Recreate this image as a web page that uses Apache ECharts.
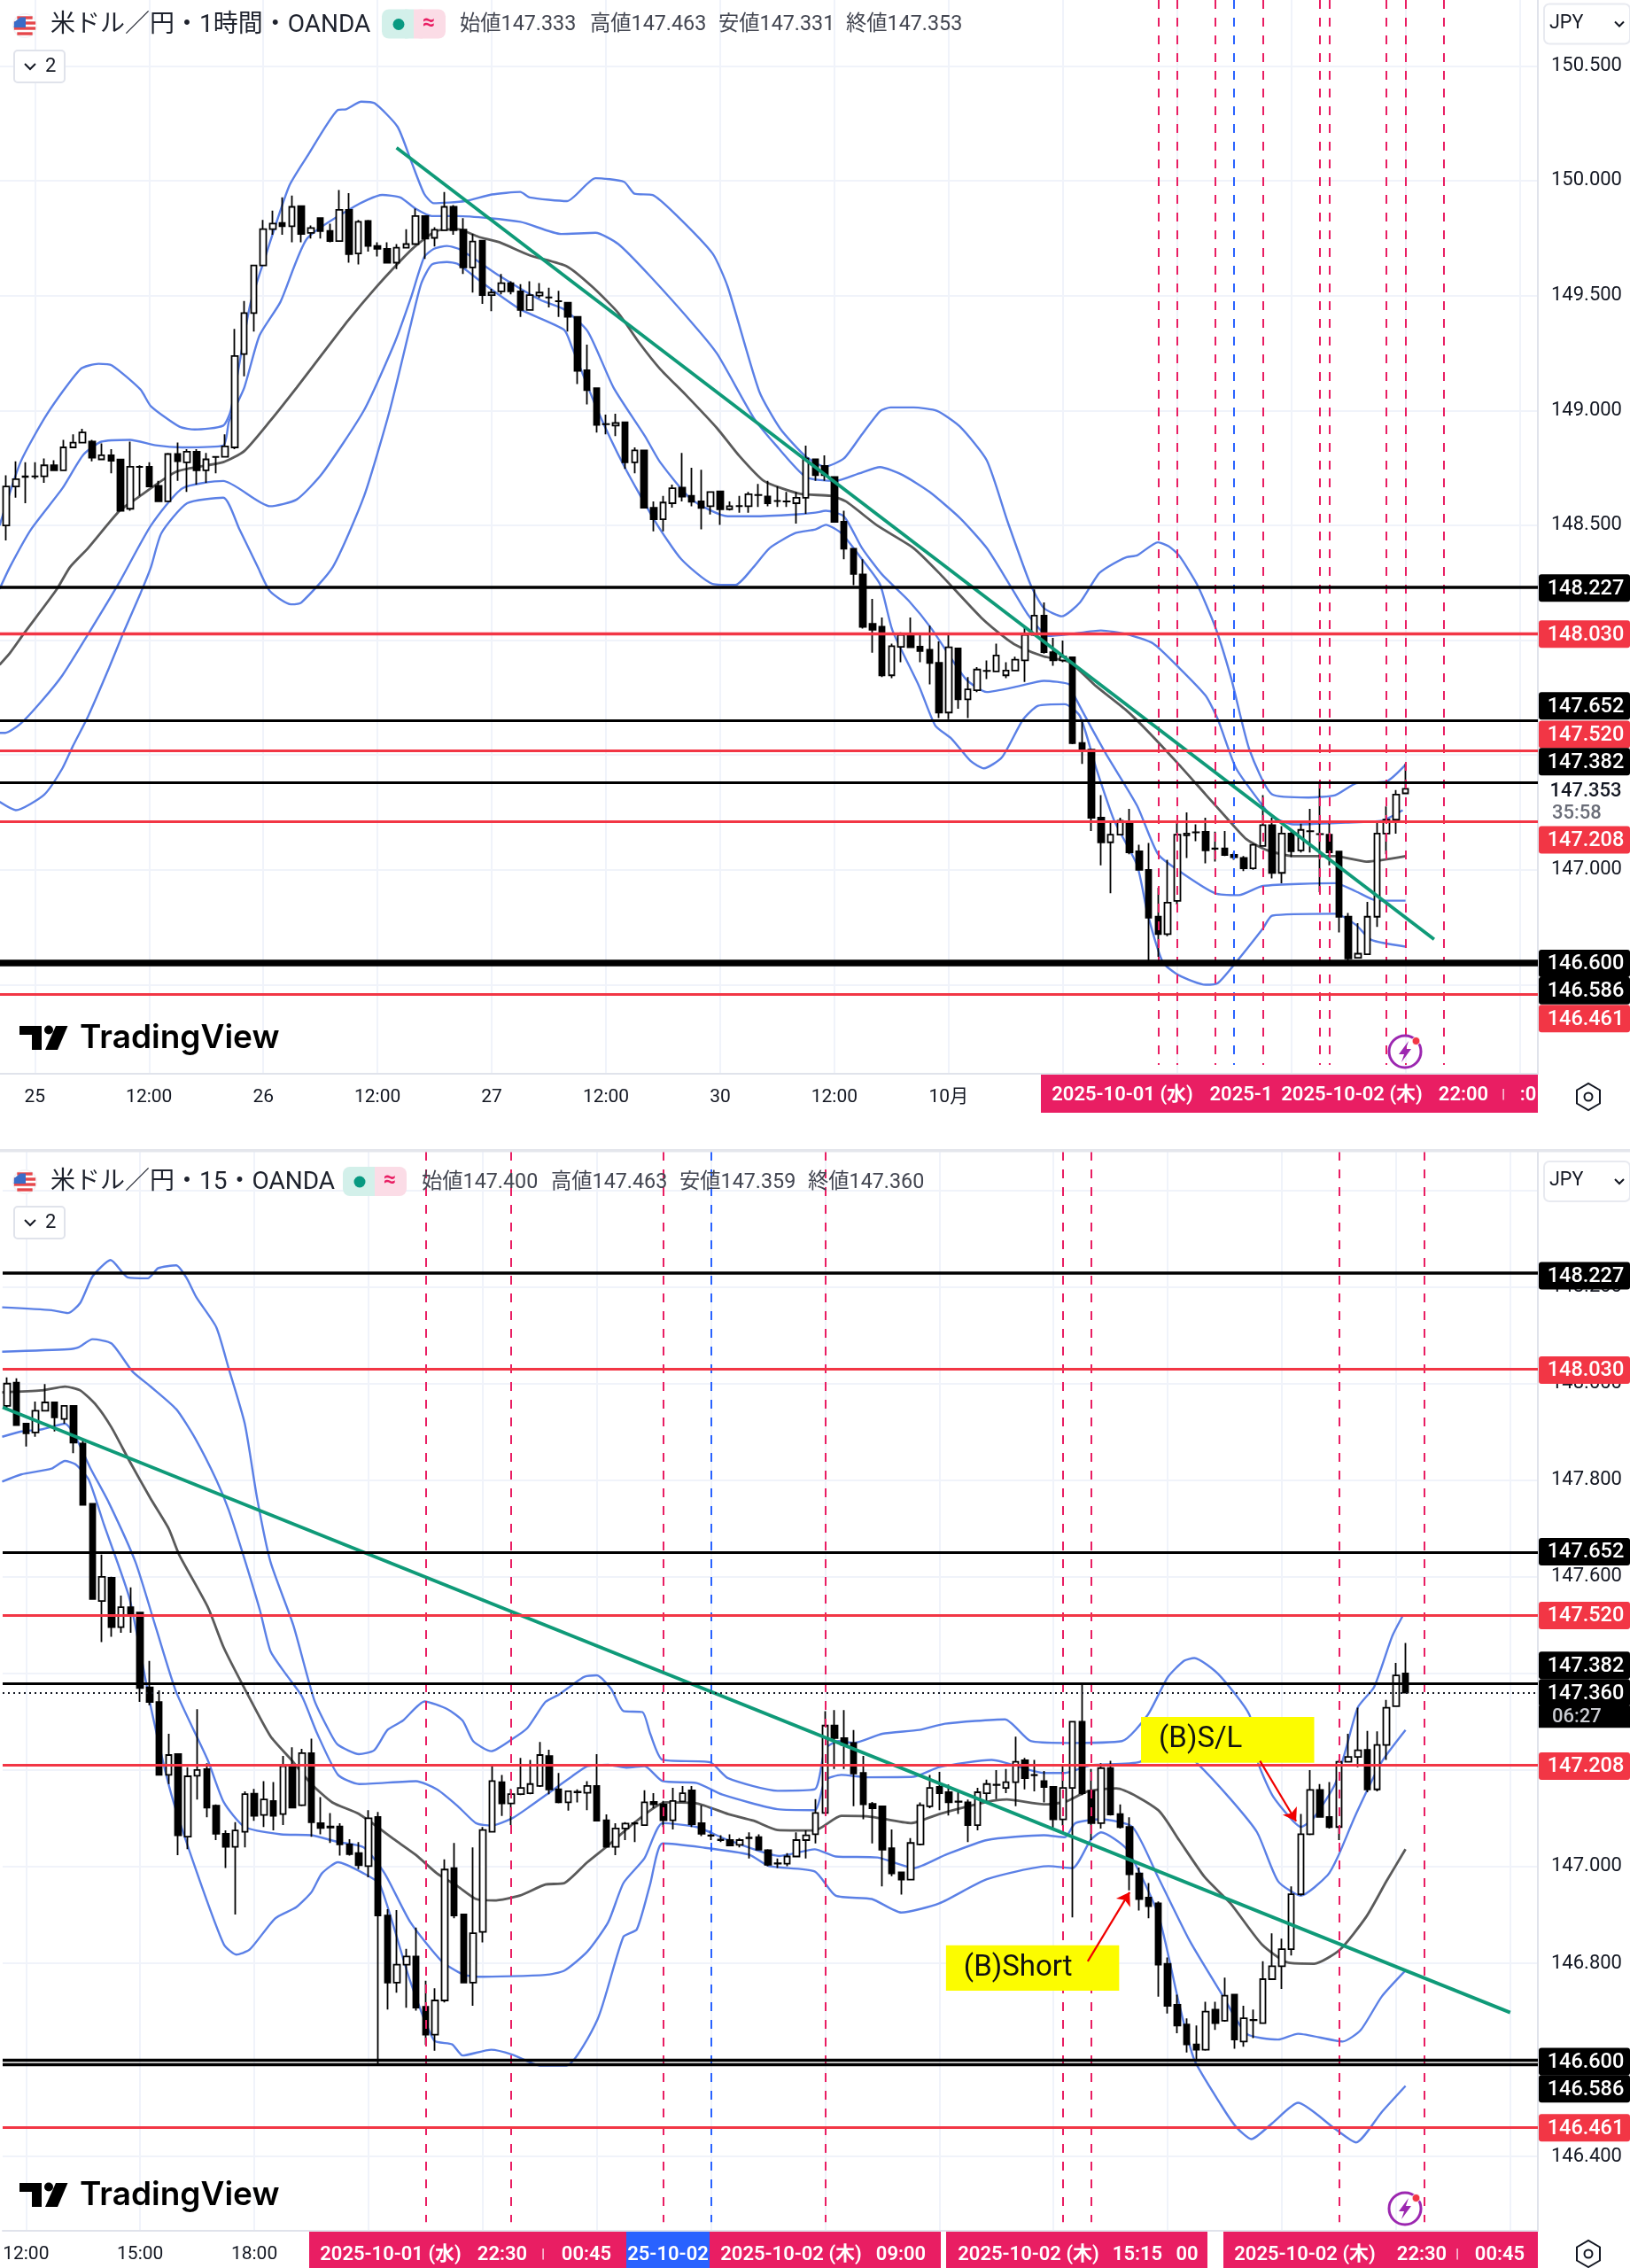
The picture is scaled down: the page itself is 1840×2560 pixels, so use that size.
<!DOCTYPE html>
<html><head><meta charset="utf-8">
<style>html,body{margin:0;padding:0;background:#fff}#c{width:1840px;height:2560px}</style>
<script src="https://cdn.jsdelivr.net/npm/echarts@6/dist/echarts.min.js"></script>
</head><body><div id="c"></div>
<script>
// ---------- 1 hour panel (bar 0 = 25th 00:00) ----------
const h1FirstBar = -3;
const h1Ohlc = [
[148.499,148.669,148.434,148.718],[148.669,148.701,148.620,148.778],[148.710,148.713,148.596,148.774],[148.712,148.713,148.701,148.774],
[148.713,148.761,148.685,148.791],[148.761,148.739,148.739,148.783],[148.739,148.839,148.739,148.872],[148.839,148.860,148.839,148.896],
[148.860,148.904,148.860,148.920],[148.864,148.794,148.778,148.872],[148.787,148.805,148.783,148.856],[148.805,148.781,148.726,148.831],
[148.786,148.563,148.560,148.786],[148.572,148.755,148.563,148.864],[148.754,148.755,148.628,148.761],[148.755,148.669,148.669,148.774],
[148.672,148.604,148.604,148.693],[148.604,148.810,148.604,148.815],[148.810,148.779,148.693,148.860],[148.774,148.820,148.645,148.831],
[148.820,148.739,148.677,148.831],[148.739,148.787,148.685,148.815],[148.797,148.798,148.726,148.799],[148.798,148.843,148.798,148.896],
[148.839,149.237,148.831,149.355],[149.245,149.424,149.148,149.476],[149.424,149.631,149.343,149.631],[149.631,149.789,149.631,149.829],
[149.789,149.813,149.765,149.870],[149.816,149.802,149.765,149.927],[149.802,149.886,149.732,149.935],[149.889,149.768,149.732,149.889],
[149.773,149.794,149.748,149.805],[149.837,149.781,149.748,149.837],[149.781,149.737,149.732,149.813],[149.737,149.873,149.735,149.959],
[149.873,149.680,149.643,149.946],[149.683,149.821,149.635,149.829],[149.825,149.716,149.691,149.829],[149.716,149.703,149.670,149.732],
[149.703,149.643,149.643,149.732],[149.643,149.708,149.615,149.724],[149.708,149.724,149.708,149.789],[149.724,149.846,149.724,149.878],
[149.846,149.748,149.659,149.846],[149.751,149.786,149.713,149.797],[149.784,149.886,149.784,149.951],[149.886,149.784,149.765,149.894],
[149.787,149.622,149.594,149.837],[149.622,149.735,149.513,149.768],[149.739,149.502,149.464,149.739],[149.502,149.513,149.432,149.529],
[149.518,149.554,149.505,149.594],[149.554,149.518,149.505,149.562],[149.518,149.437,149.407,149.550],[149.437,149.502,149.437,149.562],
[149.500,149.513,149.489,149.554],[149.492,149.491,149.448,149.534],[149.476,149.475,149.407,149.521],[149.469,149.407,149.343,149.472],
[149.407,149.172,149.115,149.407],[149.175,149.088,149.026,149.286],[149.097,148.937,148.904,149.099],[148.941,148.940,148.896,148.982],
[148.934,148.945,148.888,148.986],[148.948,148.774,148.745,148.948],[148.774,148.826,148.726,148.839],[148.826,148.576,148.576,148.826],
[148.576,148.526,148.474,148.604],[148.526,148.599,148.474,148.628],[148.596,148.661,148.577,148.677],[148.664,148.625,148.604,148.815],
[148.628,148.602,148.583,148.750],[148.604,148.575,148.482,148.742],[148.583,148.645,148.547,148.648],[148.648,148.570,148.502,148.648],
[148.570,148.583,148.564,148.604],[148.583,148.584,148.555,148.628],[148.583,148.635,148.555,148.645],[148.631,148.632,148.580,148.680],
[148.625,148.596,148.583,148.693],[148.606,148.605,148.580,148.669],[148.604,148.603,148.580,148.645],[148.596,148.620,148.507,148.645],
[148.620,148.791,148.550,148.847],[148.787,148.718,148.693,148.791],[148.758,148.718,148.693,148.804],[148.710,148.515,148.515,148.710],
[148.515,148.398,148.352,148.563],[148.398,148.288,148.239,148.398],[148.286,148.058,148.050,148.352],[148.071,148.045,147.945,148.180],
[148.058,147.847,147.839,148.099],[147.847,147.974,147.834,147.985],[147.971,148.023,147.904,148.034],[148.029,147.969,147.969,148.099],
[147.972,147.953,147.904,148.026],[147.958,147.901,147.807,148.063],[147.901,147.685,147.661,147.994],[147.685,147.969,147.656,148.023],
[147.964,147.742,147.701,147.964],[147.742,147.786,147.661,147.839],[147.782,147.872,147.774,147.883],[147.867,147.866,147.831,147.912],
[147.864,147.933,147.860,147.985],[147.847,147.868,147.834,147.904],[147.868,147.915,147.867,147.928],[147.912,148.023,147.818,148.058],
[148.023,148.107,148.018,148.221],[148.107,147.948,147.941,148.164],[147.948,147.912,147.888,148.010],[147.912,147.928,147.904,147.998],
[147.925,147.552,147.547,147.928],[147.552,147.520,147.461,147.645],[147.523,147.227,147.169,147.523],[147.227,147.120,147.020,147.325],
[147.120,147.153,146.898,147.211],[147.153,147.214,147.150,147.227],[147.211,147.076,147.068,147.266],[147.081,147.000,147.000,147.109],
[147.000,146.792,146.606,147.117],[146.796,146.720,146.622,146.922],[146.720,146.857,146.711,147.044],[146.865,147.153,146.849,147.214],
[147.150,147.158,147.052,147.250],[147.163,147.164,147.125,147.198],[147.166,147.085,147.028,147.227],[147.093,147.092,147.036,147.166],
[147.093,147.065,147.060,147.169],[147.065,147.055,147.044,147.076],[147.052,147.007,146.995,147.060],[147.007,147.109,147.000,147.114],
[147.104,147.195,147.101,147.325],[147.195,146.987,146.963,147.227],[146.987,147.158,146.942,147.190],[147.158,147.081,147.055,147.166],
[147.085,147.174,147.076,147.201],[147.169,147.168,147.076,147.266],[147.156,147.155,146.903,147.380],[147.153,147.076,147.020,147.214],
[147.080,146.796,146.728,147.080],[146.796,146.614,146.606,146.812],[146.617,146.635,146.614,146.768],[146.633,146.796,146.630,146.861],
[146.796,147.158,146.752,147.214],[147.158,147.219,147.068,147.276],[147.219,147.328,147.158,147.348],[147.333,147.353,147.331,147.463]];
const h1Upper2 = [[-3.7,148.499],[-1.5,148.775],[1.3,148.985],[4.8,149.180],[6.7,149.203],[8.1,149.196],[11.1,149.091],[12.2,149.018],[15.2,148.929],[16.8,148.917],[19.8,148.934],[20.6,149.002],[22.6,149.456],[24.2,149.667],[26.7,149.975],[28.6,150.105],[31.8,150.307],[32.7,150.311],[34.3,150.344],[35.7,150.337],[38.1,150.235],[39.5,150.089],[40.9,149.943],[41.9,149.902],[45.2,149.911],[48,149.940],[51,149.951],[52,149.927],[55.9,149.911],[58.9,150.011],[61.9,149.995],[63,149.943],[64.9,149.938],[67.3,149.854],[71.2,149.683],[72.8,149.537],[76.1,149.083],[78.3,148.921],[81,148.799],[83,148.755],[85,148.791],[86.9,148.896],[88.8,148.997],[89.9,149.013],[92.3,149.013],[94.8,148.998],[97.2,148.929],[100,148.783],[102.2,148.515],[104.6,148.242],[106,148.140],[107.9,148.104],[109.8,148.164],[111.7,148.286],[112.8,148.320],[114.7,148.361],[115.8,148.369],[118,148.426],[119.1,148.409],[120.2,148.369],[122.1,148.242],[124,148.058],[125.7,147.831],[127.6,147.523],[130,147.328],[133.8,147.315],[136.6,147.325],[138.8,147.377],[142,147.385],[144,147.458]];
const h1Upper1 = [[-3.7,148.223],[-2.6,148.320],[-0.4,148.482],[2.9,148.661],[5.1,148.807],[7,148.864],[10,148.872],[12.7,148.848],[15.5,148.839],[19.8,148.847],[20.4,148.953],[22,149.099],[23.6,149.326],[25.8,149.472],[28.6,149.748],[33.5,149.886],[36.5,149.938],[38.4,149.927],[40,149.878],[41.7,149.846],[44.4,149.846],[51,149.821],[55.3,149.768],[58.9,149.773],[61.3,149.724],[64.6,149.586],[69.5,149.359],[71.7,149.245],[75.5,148.969],[77.7,148.856],[81,148.710],[84.1,148.693],[86.6,148.726],[88.8,148.753],[91.2,148.718],[94,148.645],[97.2,148.531],[100,148.401],[102.4,148.242],[104.4,148.107],[106.5,148.018],[108.7,148.026],[112,148.042],[114.7,148.026],[117.5,147.985],[120.2,147.880],[123,147.758],[124.3,147.653],[126.2,147.442],[129,147.279],[130,147.231],[132.2,147.198],[137.7,147.206],[141.5,147.214],[143.7,147.260]];
const h1Mid = [[-3.7,147.893],[-2.6,147.945],[-1.2,148.026],[2.3,148.221],[3.7,148.318],[5.6,148.401],[8.9,148.563],[10.8,148.620],[14.9,148.734],[19.8,148.775],[22,148.823],[24.7,148.953],[27.5,149.099],[30.2,149.245],[32.9,149.391],[35.7,149.529],[38.4,149.651],[40,149.716],[42.2,149.781],[44.4,149.789],[46.6,149.756],[48.8,149.732],[52,149.675],[55.9,149.627],[58.6,149.537],[61.3,149.424],[63.5,149.294],[65.7,149.180],[68.4,149.067],[71.7,148.921],[73.9,148.807],[76.6,148.693],[80.4,148.637],[83.6,148.628],[85.2,148.604],[88.5,148.499],[92.3,148.401],[95.1,148.288],[99.4,148.099],[102.2,148.002],[103.5,147.969],[106,147.929],[108.7,147.904],[111.5,147.799],[114.7,147.693],[116.9,147.604],[120.2,147.458],[123,147.328],[125.1,147.231],[127.3,147.133],[129.5,147.085],[132.2,147.060],[136.6,147.060],[139.9,147.036],[144,147.060]];
const h1Lower1 = [[-3.7,147.596],[-3.1,147.596],[-1.5,147.636],[0.7,147.734],[2.9,147.847],[5.6,148.026],[8.9,148.253],[12.2,148.499],[15.5,148.661],[19.8,148.693],[24.7,148.583],[27.5,148.612],[30.2,148.726],[34.6,149.002],[37.8,149.294],[39.5,149.489],[40.9,149.667],[41.9,149.703],[43.3,149.716],[44.7,149.700],[48.8,149.586],[53.1,149.481],[55.6,149.440],[58.1,149.343],[60.8,149.099],[64.1,148.888],[65.7,148.774],[69,148.612],[72.8,148.539],[75.5,148.539],[79.9,148.547],[82,148.555],[83.1,148.563],[85,148.539],[86.9,148.401],[89,148.286],[91.8,148.172],[94.2,148.050],[97.8,147.831],[100,147.774],[103.3,147.799],[106,147.823],[108.7,147.807],[109.3,147.750],[112.5,147.507],[115.8,147.279],[118,147.068],[120.5,146.987],[124,146.898],[126.5,146.890],[129,146.930],[136.6,146.942],[138.8,146.906],[141,146.866],[144,146.866]];
const h1Lower2 = [[-3.7,147.296],[-2,147.260],[1,147.328],[2.9,147.442],[4,147.539],[5.6,147.669],[7.8,147.880],[9.4,148.042],[11.1,148.204],[12.2,148.318],[13.3,148.466],[16,148.596],[19.8,148.620],[21.5,148.482],[23.4,148.320],[24.7,148.213],[26.9,148.156],[28,148.164],[31.3,148.318],[34.6,148.628],[37.3,149.002],[39.5,149.375],[40.6,149.553],[41.7,149.635],[43.3,149.646],[44.4,149.638],[47.1,149.553],[51,149.440],[55.6,149.351],[56.4,149.278],[59.1,149.002],[61.9,148.758],[65.2,148.515],[67.9,148.353],[71.2,148.245],[73.6,148.240],[75.5,148.318],[77.2,148.401],[79.9,148.466],[82,148.482],[83.1,148.502],[84.7,148.466],[86.9,148.352],[88.8,148.242],[90.1,148.042],[92.9,147.799],[94.6,147.628],[96.3,147.571],[98.3,147.474],[99.7,147.442],[101.6,147.490],[103.8,147.653],[105.4,147.714],[108.2,147.721],[109.8,147.669],[111.5,147.442],[113.4,147.214],[115.8,147.020],[116.9,146.809],[118.5,146.598],[120.2,146.541],[123,146.500],[124.3,146.508],[126.2,146.598],[129,146.744],[130,146.801],[136.6,146.809],[138.8,146.760],[140.4,146.695],[144,146.666]];
const h1Trend = [[38,150.143],[147,146.698]];
const h1RedMarks = [118,120,124,129,135,136,142,144,148];
const h1BlueMarks = [126];
const h1XTicks = [0,12,24,36,48,60,72,84,96,108,120,132,144,156];
const h1XLabelBars = [0,12,24,36,48,60,72,84,96];
const h1XLabels = ['25','12:00','26','12:00','27','12:00','30','12:00','10月'];
const h1YGrid = [146.5,147,147.5,148,148.5,149,149.5,150,150.5];
const h1YLabels = [147,148.5,149,149.5,150,150.5];

// ---------- 15 minute panel (bar 0 = 12:00) ----------
const m15FirstBar = -2;
const m15Ohlc = [
[147.954,148.000,147.948,148.013],[148.002,147.914,147.913,148.011],[147.917,147.897,147.870,147.917],[147.899,147.944,147.890,147.963],
[147.944,147.961,147.944,147.999],[147.961,147.930,147.901,147.963],[147.927,147.954,147.917,147.955],[147.954,147.878,147.856,147.955],
[147.876,147.749,147.749,147.882],[147.751,147.554,147.554,147.753],[147.550,147.600,147.465,147.646],[147.598,147.496,147.476,147.600],
[147.496,147.537,147.484,147.561],[147.537,147.524,147.484,147.578],[147.526,147.370,147.341,147.526],[147.371,147.341,147.334,147.426],
[147.341,147.190,147.190,147.365],[147.190,147.231,147.171,147.275],[147.233,147.065,147.024,147.233],[147.062,147.187,147.036,147.206],
[147.188,147.200,147.139,147.326],[147.202,147.122,147.102,147.214],[147.126,147.068,147.055,147.129],[147.068,147.041,146.997,147.075],
[147.041,147.075,146.901,147.092],[147.072,147.150,147.040,147.156],[147.151,147.105,147.095,147.161],[147.107,147.139,147.082,147.177],
[147.136,147.105,147.075,147.175],[147.109,147.208,147.086,147.229],[147.208,147.122,147.122,147.247],[147.127,147.235,147.125,147.244],
[147.235,147.092,147.062,147.265],[147.090,147.080,147.067,147.144],[147.083,147.081,147.049,147.111],[147.083,147.046,147.023,147.090],
[147.046,147.026,147.023,147.057],[147.028,147.003,146.995,147.051],[147.001,147.100,146.978,147.117],[147.103,146.899,146.588,147.113],
[146.899,146.760,146.704,146.912],[146.760,146.797,146.739,146.910],[146.797,146.814,146.708,146.830],[146.814,146.708,146.702,146.874],
[146.710,146.652,146.631,146.764],[146.652,146.723,146.619,146.748],[146.723,146.994,146.719,147.015],[146.997,146.899,146.893,147.049],
[146.901,146.760,146.760,146.901],[146.760,146.862,146.712,147.040],[146.865,147.076,146.843,147.082],[147.072,147.177,147.071,147.211],
[147.175,147.131,147.105,147.190],[147.131,147.150,147.086,147.161],[147.150,147.163,147.148,147.225],[147.152,147.171,147.150,147.221],
[147.167,147.231,147.165,147.258],[147.229,147.160,147.150,147.242],[147.160,147.133,147.131,147.194],[147.133,147.156,147.116,147.157],
[147.155,147.154,147.133,147.160],[147.153,147.167,147.117,147.177],[147.167,147.095,147.095,147.233],[147.096,147.041,147.040,147.108],
[147.041,147.079,147.024,147.090],[147.079,147.089,147.055,147.092],[147.089,147.090,147.051,147.093],[147.086,147.133,147.085,147.158],
[147.134,147.129,147.121,147.152],[147.129,147.096,147.082,147.136],[147.096,147.136,147.077,147.163],[147.135,147.152,147.134,147.167],
[147.158,147.088,147.082,147.167],[147.090,147.068,147.063,147.127],[147.065,147.064,147.055,147.075],[147.056,147.055,147.051,147.065],
[147.055,147.044,147.042,147.067],[147.045,147.055,147.040,147.059],[147.060,147.059,147.017,147.071],[147.061,147.035,147.034,147.067],
[147.034,147.004,147.001,147.036],[147.007,147.006,146.997,147.017],[147.006,147.021,147.001,147.028],[147.021,147.055,147.019,147.071],
[147.055,147.065,147.017,147.075],[147.067,147.111,147.048,147.140],[147.111,147.292,147.110,147.322],[147.292,147.266,147.202,147.324],
[147.266,147.252,147.202,147.324],[147.256,147.193,147.125,147.283],[147.194,147.129,147.098,147.229],[147.130,147.121,147.048,147.134],
[147.125,147.035,146.959,147.125],[147.038,146.986,146.980,147.077],[146.988,146.973,146.942,146.990],[146.973,147.049,146.973,147.059],
[147.046,147.127,147.044,147.133],[147.125,147.163,147.121,147.190],[147.165,147.152,147.117,147.196],[147.154,147.133,147.106,147.170],
[147.135,147.134,147.109,147.156],[147.133,147.086,147.051,147.139],[147.086,147.154,147.075,147.163],[147.152,147.171,147.133,147.180],
[147.169,147.170,147.140,147.200],[147.163,147.175,147.152,147.202],[147.175,147.217,147.125,147.269],[147.220,147.183,147.160,147.225],
[147.190,147.189,147.156,147.221],[147.177,147.165,147.133,147.198],[147.165,147.098,147.075,147.165],[147.098,147.163,147.085,147.210],
[147.163,147.300,146.895,147.300],[147.300,147.152,147.148,147.380],[147.157,147.090,147.055,147.202],[147.090,147.204,147.079,147.214],
[147.204,147.108,147.106,147.219],[147.109,147.082,147.079,147.129],[147.082,146.984,146.951,147.102],[146.986,146.933,146.909,146.998],
[146.936,146.918,146.893,146.966],[146.924,146.797,146.731,146.928],[146.799,146.712,146.696,146.812],[146.714,146.671,146.655,146.735],
[146.673,146.632,146.615,146.686],[146.632,146.621,146.600,146.671],[146.621,146.700,146.619,146.720],[146.704,146.676,146.662,146.720],
[146.681,146.733,146.679,146.770],[146.735,146.642,146.623,146.735],[146.638,146.686,146.627,146.712],[146.683,146.682,146.645,146.704],
[146.676,146.767,146.675,146.804],[146.767,146.794,146.766,146.862],[146.794,146.829,146.747,146.851],[146.829,146.943,146.816,146.959],
[146.943,147.067,146.940,147.109],[147.067,147.159,147.065,147.200],[147.159,147.103,147.102,147.171],[147.103,147.082,147.079,147.175],
[147.082,147.217,147.055,147.221],[147.217,147.227,147.216,147.275],[147.227,147.241,147.206,147.329],[147.242,147.160,147.154,147.281],
[147.160,147.252,147.156,147.280],[147.252,147.329,147.221,147.345],[147.332,147.396,147.331,147.422],[147.400,147.360,147.359,147.463]];
const m15Upper2 = [[-2.5,148.158],[2.7,148.152],[4.4,148.146],[5.7,148.167],[7,148.222],[8.9,148.256],[10.7,148.220],[12.8,148.218],[13.9,148.239],[15.8,148.245],[16.9,148.218],[17.9,148.179],[20,148.117],[21.3,148.032],[23,147.917],[24.3,147.762],[25.7,147.631],[28.1,147.500],[30.3,147.345],[32,147.276],[32.8,147.252],[35,147.233],[36.6,147.241],[38,147.283],[39.6,147.302],[41.9,147.342],[44.3,147.326],[45.9,147.302],[47,147.260],[48.9,147.239],[51.1,147.264],[52.7,147.287],[54.6,147.341],[56,147.356],[57.4,147.376],[58.7,147.393],[60,147.396],[61.5,147.368],[62.8,147.322],[64.8,147.320],[65.6,147.276],[66.9,147.221],[71.9,147.216],[73.8,147.183],[79,147.157],[82.9,147.160],[84,147.244],[85.4,147.260],[87,147.256],[90,147.275],[93.9,147.283],[96.6,147.296],[102.9,147.305],[105.6,147.260],[109.2,147.256],[115.2,147.260],[117.9,147.314],[120,147.392],[121.7,147.426],[122.8,147.432],[125.3,147.399],[128.6,147.314],[129.4,147.221],[131,147.148],[133.2,147.094],[134,147.082],[135.4,147.102],[137.6,147.171],[138.7,147.241],[140,147.330],[141.7,147.372],[143.6,147.477],[144.7,147.519]];
const m15Upper1 = [[-2.5,148.066],[4.4,148.071],[5.5,148.075],[7,148.092],[9,148.083],[11.2,148.025],[13.1,147.994],[15.8,147.947],[17.8,147.886],[20,147.801],[21.3,147.739],[22.7,147.654],[24.6,147.530],[25.7,147.446],[27.3,147.399],[29,147.353],[30.6,147.276],[32.8,147.190],[35,147.171],[41,147.177],[43.2,147.160],[45.4,147.125],[47.3,147.090],[48.9,147.085],[51.1,147.100],[53,147.125],[55.2,147.156],[57.4,147.187],[59,147.208],[61.2,147.211],[63.1,147.205],[65,147.208],[66.9,147.177],[70.5,147.173],[73.2,147.149],[79,147.119],[82.9,147.117],[84,147.179],[85.7,147.190],[88.4,147.185],[93.3,147.186],[96,147.206],[101.5,147.221],[107,147.194],[109.2,147.194],[111.9,147.210],[117.1,147.217],[120,147.264],[123.1,147.214],[126.6,147.140],[129.4,147.071],[131.6,146.970],[134,146.940],[136.8,146.982],[137.9,147.021],[139.8,147.109],[142.5,147.217],[145,147.283]];
const m15Mid = [[-2.5,147.982],[1.6,147.986],[4.1,147.994],[5.7,147.986],[7.4,147.955],[9,147.909],[10.9,147.839],[13.1,147.762],[15,147.700],[16.1,147.646],[19.1,147.538],[20.8,147.453],[23,147.368],[25.7,147.270],[27.9,147.221],[30,147.171],[32.2,147.133],[35,147.109],[38.8,147.055],[41,147.024],[43.2,146.986],[45.4,146.959],[47.3,146.933],[49.2,146.930],[51.9,146.940],[54.6,146.963],[56.6,146.966],[59,147.009],[61.2,147.044],[63.9,147.090],[67.2,147.133],[70.5,147.131],[73.8,147.109],[76.5,147.095],[79,147.076],[82.9,147.075],[85.7,147.105],[88.9,147.103],[93,147.090],[96,147.109],[101,147.134],[103.1,147.139],[107,147.129],[109.2,147.134],[111.6,147.156],[114.6,147.162],[119,147.117],[121.2,147.055],[123.9,146.978],[126.6,146.924],[129.9,146.839],[132.7,146.801],[135.4,146.799],[138.1,146.828],[140.9,146.897],[143,146.970],[145,147.036]];
const m15Lower1 = [[-2.5,147.890],[-0.5,147.901],[1.6,147.905],[4.1,147.917],[5.2,147.890],[6.8,147.824],[8.7,147.754],[11.5,147.631],[13.7,147.492],[15.8,147.361],[19.1,147.221],[20.8,147.133],[23,147.082],[26.8,147.067],[30,147.065],[32.8,147.051],[35.5,147.040],[37.7,146.986],[40.4,146.885],[43.7,146.804],[45.9,146.777],[47.5,146.772],[54.6,146.776],[56.6,146.785],[59,146.824],[61.2,146.885],[62.8,146.966],[65,147.017],[66.9,147.090],[70.5,147.082],[73.8,147.055],[79.2,147.022],[82.9,147.036],[85.1,147.021],[89.5,147.019],[93.3,146.997],[96.6,147.024],[101,147.055],[107,147.065],[109.2,147.061],[110.3,147.090],[113,147.098],[116.3,147.082],[119,146.978],[122.3,146.847],[125.6,146.739],[128.3,146.654],[131.6,146.642],[133.7,146.654],[138.4,146.638],[140.3,146.662],[142.5,146.731],[145,146.785]];
const m15Lower2 = [[-2.5,147.797],[-0.5,147.812],[2.7,147.824],[4.1,147.840],[5.2,147.833],[6.6,147.801],[8.2,147.708],[10.9,147.554],[13.1,147.333],[15.3,147.148],[18,146.986],[20.8,146.839],[22.1,146.818],[23.5,146.828],[26.2,146.893],[28.4,146.916],[30,146.947],[31.1,146.986],[32.8,147.009],[35.5,146.986],[37.2,146.963],[40.4,146.762],[42.9,146.640],[44.8,146.632],[45.9,146.609],[48.9,146.621],[51.1,146.611],[54.1,146.588],[56.8,146.588],[60.1,146.685],[62.8,146.855],[64.2,146.870],[65.6,146.963],[66.9,147.048],[71,147.040],[76,147.025],[78.1,147.001],[82.9,146.990],[85.1,146.940],[88.9,146.933],[92,146.905],[96,146.924],[101,146.974],[107.5,147.001],[110,146.997],[111.9,147.055],[113,147.071],[115.7,147.036],[119,146.901],[121.2,146.716],[122.8,146.600],[125.6,146.507],[127.2,146.461],[128.8,146.436],[131,146.469],[133.7,146.511],[137.6,146.457],[139.8,146.429],[142.5,146.492],[145,146.546]];
const m15Trend = [[-2.45,147.951],[156,146.698]];
const m15RedMarks = [42,51,67,84,109,112,138,147];
const m15BlueMarks = [72];
const m15XTicks = [0,12,24,36,48,60,72,84,96,108,120,132,144,156];
const m15XLabelBars = [0,12,24];
const m15XLabels = ['12:00','15:00','18:00'];
const m15YGrid = [146.4,146.6,146.8,147,147.2,147.4,147.6,147.8,148,148.2,148.4];
const m15YLabels = [146.4,146.8,147,147.6,147.8,148,148.2];
const m15LastClose = 147.36;
const shortBox = [[96.7,146.837],[114.9,146.743]];
const stopBox = [[117.2,147.310],[135.4,147.215]];
const shortArrow = [[111.6,146.804],[116,146.947]];
const stopArrow = [[129.7,147.219],[133.5,147.094]];

// shared price levels
const levelPrices = [148.227,148.03,147.652,147.52,147.382,147.208,146.6,146.586,146.461];
const levelKinds = ['k','r','k','r','k','r','k','k','r'];
const levelWidthsH1 = [3.6,3.4,3.2,3.2,3.2,3.2,4.6,4.6,3.2];
const levelWidthsM15 = [3.6,3.2,3.2,3.2,3.2,3.2,3.4,3.4,3.2];

// price tags: price, text, fill kind, vertical shift away from the price
const h1Tags = [[148.227,'148.227','k',0],[148.03,'148.030','r',1],[147.652,'147.652','k',-16],[147.52,'147.520','r',-18],[147.382,'147.382','k',-23],[147.353,'147.353','n',2],[147.353,'35:58','t',27],[147.208,'147.208','r',20],[146.6,'146.600','k',2],[146.586,'146.586','k',29],[146.461,'146.461','r',28]];
const m15Tags = [[148.227,'148.227','k',2],[148.03,'148.030','r',1],[147.652,'147.652','k',0],[147.52,'147.520','r',0],[147.382,'147.382','k',-19],[147.36,'147.360','k',0],[147.36,'06:27','d',27],[147.208,'147.208','r',0],[146.6,'146.600','k',2],[146.586,'146.586','k',25],[146.461,'146.461','r',1]];

const FONT = 'Roboto, "Noto Sans CJK JP", sans-serif';
const BLUE='#5b80e6', GREY='#5a5a5a', GREEN='#0f9a78', RED='#f23645', PINK='#e91e63', MBLUE='#2962ff', TXT='#131722';

const panels = [
 {g:0,left:0,top:0,h:1212,ymin:146.1125,ymax:150.7865,xmin:-3.658,xmax:157.9,first:h1FirstBar,ohlc:h1Ohlc,
  bands:[h1Upper2,h1Upper1,h1Lower1,h1Lower2],mid:h1Mid,trend:h1Trend,reds:h1RedMarks,blues:h1BlueMarks,
  xt:h1XTicks,xlb:h1XLabelBars,xl:h1XLabels,yg:h1YGrid,yl:h1YLabels,widths:levelWidthsH1,tags:h1Tags,dashEnd:146.151},
 {g:1,left:3,top:1300,h:1218,ymin:146.2461,ymax:148.4801,xmin:-2.449,xmax:158.91,first:m15FirstBar,ohlc:m15Ohlc,
  bands:[m15Upper2,m15Upper1,m15Lower1,m15Lower2],mid:m15Mid,trend:m15Trend,reds:m15RedMarks,blues:m15BlueMarks,
  xt:m15XTicks,xlb:m15XLabelBars,xl:m15XLabels,yg:m15YGrid,yl:m15YLabels,widths:levelWidthsM15,tags:m15Tags,dashEnd:146.264}
];
const series=[],grids=[],xAxes=[],yAxes=[];
panels.forEach(p=>{
  const g=p.g;
  grids.push({left:p.left,top:p.top,width:1736-p.left,height:p.h,containLabel:false});
  xAxes.push({gridIndex:g,type:'value',min:p.xmin,max:p.xmax,
    axisLine:{show:true,onZero:false,lineStyle:{color:'#e0e3eb',width:2}},
    axisTick:{show:false,customValues:p.xt},
    splitLine:{show:true,lineStyle:{color:'#f0f3fa',width:2}},
    axisLabel:{customValues:p.xlb,margin:16,color:TXT,fontSize:21,fontFamily:FONT,
      formatter:v=>p.xl[p.xlb.indexOf(v)]||''}});
  yAxes.push({gridIndex:g,type:'value',position:'right',min:p.ymin,max:p.ymax,
    axisLine:{show:true,onZero:false,lineStyle:{color:'#e0e3eb',width:2}},
    axisTick:{show:false,customValues:p.yg},
    splitLine:{show:true,lineStyle:{color:'#f0f3fa',width:2}},
    axisLabel:{customValues:p.yl,margin:15,color:TXT,fontSize:22,fontFamily:FONT,padding:[3,0,0,0],formatter:v=>v.toFixed(3)}});
  const ax={xAxisIndex:g,yAxisIndex:g};
  p.bands.forEach(b=>series.push({...ax,type:'line',data:b,showSymbol:false,symbol:'none',smooth:0.2,z:2,silent:true,lineStyle:{color:BLUE,width:2.4}}));
  series.push({...ax,type:'line',data:p.mid,symbol:'none',smooth:0.2,z:2,silent:true,lineStyle:{color:GREY,width:2.8}});
  series.push({...ax,type:'candlestick',z:3,silent:true,barWidth:7,clip:true,
    data:p.ohlc.map((r,i)=>[p.first+i,r[0],r[1],r[2],r[3]]),
    itemStyle:{color:'#ffffff',color0:'#000000',borderColor:'#000000',borderColor0:'#000000',borderWidth:1.8}});
  series.push({...ax,type:'line',data:p.trend,symbol:'none',z:5,silent:true,lineStyle:{color:GREEN,width:3.8}});
  const vert=(arr,color)=>series.push({...ax,type:'line',data:[],z:4,silent:true,markLine:{z:4,silent:true,symbol:'none',animation:false,label:{show:false},
     lineStyle:{color,width:2,type:[10,10]},data:arr.map(x=>[{coord:[x,p.ymax]},{coord:[x,p.dashEnd]}])}});
  vert(p.reds,PINK); vert(p.blues,MBLUE);
  series.push({...ax,type:'line',data:[],z:6,silent:true,markLine:{z:6,silent:true,symbol:'none',animation:false,label:{show:false},
     data:levelPrices.map((v,i)=>({yAxis:v,lineStyle:{type:'solid',color:levelKinds[i]==='k'?'#000':RED,width:p.widths[i]}}))}});
  series.push({...ax,type:'custom',z:30,silent:true,clip:false,data:p.tags.map((t,i)=>[p.xmin,t[0],i]),encode:{x:0,y:1},
    renderItem:(prm,api)=>{
      const t=p.tags[api.value(2)],y=api.coord([api.value(0),api.value(1)])[1]+t[3],k=t[2];
      const fill={k:'#000',r:RED,n:'#fff',t:'#fff',d:'#000'}[k],col={k:'#fff',r:'#fff',n:TXT,t:'#6a6d78',d:'#c9cbd1'}[k];
      const h=k==='d'?25:(k==='n'||k==='t'?24:31);
      const fs=(k==='t'||k==='d'||k==='n')?22:23.5;
      return {type:'group',children:[
        {type:'rect',shape:{x:1737,y:y-h/2,width:103,height:h,r:k==='d'?0:3},style:{fill}},
        {type:'text',style:{x:(k==='t'||k==='d')?1752:1790,y:y+1,text:t[1],align:(k==='t'||k==='d')?'left':'center',verticalAlign:'middle',fill:col,font:'500 '+fs+'px '+FONT}}]};
    }});
});
// last close dotted line, trade boxes and arrows (15 minute panel)
const ax1={xAxisIndex:1,yAxisIndex:1};
series.push({...ax1,type:'line',data:[],z:6,silent:true,markLine:{z:6,silent:true,symbol:'none',animation:false,label:{show:false},
  data:[{yAxis:m15LastClose,lineStyle:{type:[2,4],color:'#131722',width:2}}]}});
const boxLabel=(txt)=>({show:true,position:'insideLeft',distance:20,formatter:txt,color:'#111',fontSize:33,fontFamily:FONT,padding:[4,0,0,0]});
series.push({...ax1,type:'line',data:[],z:8,silent:true,markArea:{z:8,silent:true,animation:false,itemStyle:{color:'#fcfc00',opacity:1},
  data:[[{coord:shortBox[0],label:boxLabel('(B)Short')},{coord:shortBox[1]}],[{coord:stopBox[0],label:boxLabel('(B)S/L')},{coord:stopBox[1]}]]}});
series.push({...ax1,type:'line',data:[],z:9,silent:true,markLine:{z:9,silent:true,symbol:['none','arrow'],symbolSize:14,animation:false,label:{show:false},
  lineStyle:{type:'solid',color:'#f00000',width:2.2},
  data:[[{coord:shortArrow[0]},{coord:shortArrow[1]}],[{coord:stopArrow[0]},{coord:stopArrow[1]}]]}});

// ---------- decoration: headers, logos, time bars ----------
const gfx=[];
const T=(x,y,text,o={})=>gfx.push({type:'text',z:44,x,y,silent:true,style:{text,fill:o.c||TXT,font:(o.w||'400')+' '+(o.s||21)+'px '+FONT,textAlign:o.a||'left',textVerticalAlign:'middle'}});
const R=(x,y,w,h,fill,r,stroke,z)=>gfx.push({type:'rect',z:z||39,silent:true,shape:{x,y,width:w,height:h,r:r||0},style:{fill,stroke:stroke||null,lineWidth:stroke?2:0}});
const C=(cx,cy,r,fill,stroke,lw)=>gfx.push({type:'circle',z:40,silent:true,shape:{cx,cy,r},style:{fill,stroke:stroke||null,lineWidth:lw||0}});
const P=(pts,fill)=>gfx.push({type:'polygon',z:42,silent:true,shape:{points:pts},style:{fill}});
function flag(cx,cy){
  const r=12.5; C(cx,cy,r+1.5,'#f1f3f6');
  C(cx,cy,r,'#ffffff');
  [-9,-3,3,9].forEach(dy=>{const w=2*Math.sqrt(r*r-dy*dy);R(cx-w/2,cy+dy-1.7,w,3.4,'#e5474b',0,null,41);});
  P([[cx-12,cy-4],[cx-5,cy-9.5],[cx+1,cy-9.5],[cx+1,cy+2],[cx-12.4,cy+2]],'#3a6cc8');
}
function header(dy,ry,title,pillX,o){
  flag(28,29+dy);
  T(57,27+ry,title,{s:28,c:'#1e222d'});
  R(pillX,10+ry-1,36,33,'#d3f0ea',8); R(pillX+36,10+ry-1,36,33,'#fbdce6',8);
  R(pillX+26,10+ry-1,10,33,'#d3f0ea'); R(pillX+36,10+ry-1,10,33,'#fbdce6');
  C(pillX+19,26+ry,6.5,'#089981');
  T(pillX+53,25+ry,'≈',{s:25,c:'#e91e63',w:'700',a:'center'});
  o.forEach(a=>T(a[0],27+ry,a[1]+a[2],{s:23.3,c:'#434651'}));
  R(16,57+dy,57,36,'#ffffff',4,'#e0e3eb');
  gfx.push({type:'polyline',z:44,silent:true,shape:{points:[[28,72+dy],[34,78+dy],[40,72+dy]]},style:{stroke:TXT,lineWidth:2,fill:null}});
  T(51,75+dy,'2',{s:22});
  R(1743,3+ry,97,45,'#ffffff',6,'#e8eaf0');
  T(1749,25+ry,'JPY',{s:21.5});
  gfx.push({type:'polyline',z:44,silent:true,shape:{points:[[1823,23+ry],[1828,28+ry],[1833,23+ry]]},style:{stroke:TXT,lineWidth:2,fill:null}});
}
header(0,1.5,'米ドル／円・1時間・OANDA',431,[[519,'始値','147.333'],[666,'高値','147.463'],[811,'安値','147.331'],[955,'終値','147.353']]);
header(1305,1308,'米ドル／円・15・OANDA',387,[[476,'始値','147.400'],[622,'高値','147.463'],[767,'安値','147.359'],[912,'終値','147.360']]);
function logo(dy){
  R(22,1158+dy,25,10,'#000',0,null,41); R(36,1158+dy,11,27,'#000',0,null,41);
  C(55,1162.5+dy,5,'#000');
  P([[63,1158+dy],[76.5,1158+dy],[65,1185+dy],[51,1185+dy]],'#000');
  gfx.push({type:'text',z:44,x:90,y:1172+dy,silent:true,style:{text:'TradingView',fill:'#000',font:'600 37px Inter, Roboto, sans-serif',textVerticalAlign:'middle'}});
}
logo(0); logo(1306);
function bolt(cx,cy){
  C(cx,cy,18,'none','#9c27b0',3);
  P([[cx+4,cy-12],[cx-7,cy+3],[cx-1,cy+3],[cx-4,cy+12],[cx+7,cy-3],[cx+1,cy-3]],'#9c27b0');
  gfx.push({type:'circle',z:43,silent:true,shape:{cx:cx+12.5,cy:cy-12,r:4.5},style:{fill:'#f23645',stroke:'#fff',lineWidth:1}});
}
bolt(1586,1187); bolt(1586,2493);
function gear(cx,cy){
  const pts=[];for(let i=0;i<6;i++){const a=Math.PI/6+i*Math.PI/3;pts.push([cx+15*Math.cos(a),cy+15*Math.sin(a)]);}
  gfx.push({type:'polygon',z:40,silent:true,shape:{points:pts},style:{fill:'#fff',stroke:TXT,lineWidth:2}});
  gfx.push({type:'circle',z:41,silent:true,shape:{cx,cy,r:4.5},style:{fill:'#fff',stroke:TXT,lineWidth:2}});
}
gear(1793,1238); gear(1793,2544);
R(0,1297,1840,3.5,'#e4e6ec');
// active-range time bars
const BAR={c:'#fff',w:'600',a:'center',s:22};
R(1175,1213,561,43,PINK);
T(1267,1236,'2025-10-01 (水)',BAR);
T(1401,1236,'2025-1',BAR);
T(1526,1236,'2025-10-02 (木)',BAR);
T(1652,1236,'22:00',BAR);
T(1697,1236,'|',{c:'#fff',a:'center',s:15});
T(1725,1236,':0',BAR);
R(349,2519,358,41,PINK); R(707,2519,94,41,MBLUE); R(801,2519,261,41,PINK); R(1068,2519,295,41,PINK); R(1381,2519,355,41,PINK);
[[441,'2025-10-01 (水)'],[567,'22:30'],[662,'00:45'],[754,'25-10-02'],[893,'2025-10-02 (木)'],[1017,'09:00'],[1161,'2025-10-02 (木)'],[1284,'15:15'],[1340,'00'],[1473,'2025-10-02 (木)'],[1605,'22:30'],[1693,'00:45']].forEach(a=>T(a[0],2545,a[1],BAR));
T(613,2545,'|',{c:'#fff',a:'center',s:15}); T(1645,2545,'|',{c:'#fff',a:'center',s:15});

const chart=echarts.init(document.getElementById('c'),null,{renderer:'canvas'});
chart.setOption({animation:false,backgroundColor:'#fff',tooltip:{show:false},legend:{show:false},
  grid:grids,xAxis:xAxes,yAxis:yAxes,series,graphic:{elements:gfx}});
</script></body></html>
